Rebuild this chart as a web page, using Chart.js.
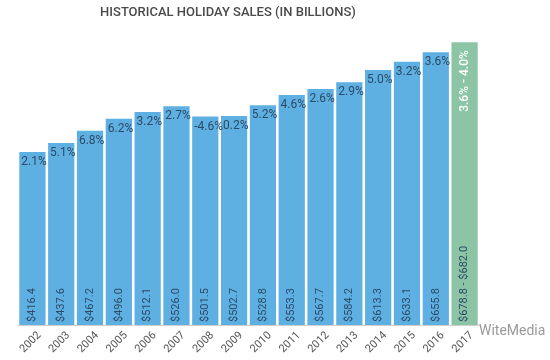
<!DOCTYPE html>
<html>
<head>
<meta charset="utf-8">
<script src="https://cdn.jsdelivr.net/npm/chart.js@4"></script>
<style>
  html, body { margin: 0; padding: 0; background: #fff; }
  #wrap { width: 550px; height: 360px; position: relative; }
</style>
</head>
<body>
<div id="wrap"><canvas id="salesChart" width="550" height="360"></canvas></div>
<script>
// --- DATA ---
const years = ['2002','2003','2004','2005','2006','2007','2008','2009','2010','2011','2012','2013','2014','2015','2016','2017'];
const sales = [416.4, 437.6, 467.2, 496.0, 512.1, 526.0, 501.5, 502.7, 528.8, 553.3, 567.7, 584.2, 613.3, 633.1, 655.8, 680.4];
const salesLabels = ['$416.4','$437.6','$467.2','$496.0','$512.1','$526.0','$501.5','$502.7','$528.8','$553.3','$567.7','$584.2','$613.3','$633.1','$655.8','$678.8 - $682.0'];
const growthLabels = ['2.1%','5.1%','6.8%','6.2%','3.2%','2.7%','-4.6%','0.2%','5.2%','4.6%','2.6%','2.9%','5.0%','3.2%','3.6%','3.6% - 4.0%'];
const forecastIndex = 15;

const blue = '#5eb0e3';
const green = '#8cc5a6';
const labelColor = '#2d4a66';

// draws the title, growth % at top of bars and $ values rotated at the bottom
const barLabels = {
    id: 'barLabels',
    afterDatasetsDraw(chart) {
        const ctx = chart.ctx;
        const meta = chart.getDatasetMeta(0);
        ctx.save();
        meta.data.forEach((bar, i) => {
            const left = bar.x - bar.width / 2;
            if (i === forecastIndex) {
                // forecast bar: both labels rotated
                ctx.save();
                ctx.translate(bar.x, bar.y + 8);
                ctx.rotate(-Math.PI / 2);
                ctx.font = '500 12px Roboto';
                ctx.fillStyle = '#ffffff';
                ctx.textAlign = 'right';
                ctx.textBaseline = 'middle';
                ctx.fillText(growthLabels[i], 0, 0);
                ctx.restore();
            } else {
                ctx.font = '12px Roboto';
                ctx.fillStyle = labelColor;
                ctx.textAlign = 'left';
                ctx.textBaseline = 'middle';
                ctx.fillText(growthLabels[i], left + 2, bar.y + 10);
            }
            ctx.save();
            ctx.translate(bar.x, bar.base - 3);
            ctx.rotate(-Math.PI / 2);
            ctx.font = '11px Roboto';
            ctx.fillStyle = labelColor;
            ctx.textAlign = 'left';
            ctx.textBaseline = 'middle';
            ctx.fillText(salesLabels[i], 0, 0);
            ctx.restore();
        });

        // title
        ctx.font = '500 13px Roboto';
        ctx.fillStyle = '#4a4a4a';
        ctx.textAlign = 'center';
        ctx.textBaseline = 'middle';
        ctx.fillText('HISTORICAL HOLIDAY SALES (IN BILLIONS)', 228, 13);

        // watermark
        ctx.font = '14px Roboto';
        ctx.fillStyle = '#9a9a9a';
        ctx.textAlign = 'left';
        ctx.fillText('WiteMedia', 479, 331);
        ctx.restore();
    }
};

new Chart(document.getElementById('salesChart'), {
    type: 'bar',
    data: {
        labels: years,
        datasets: [{
            data: sales,
            backgroundColor: years.map((y, i) => i === forecastIndex ? green : blue),
            borderWidth: 0,
            barPercentage: 0.91,
            categoryPercentage: 1.0
        }]
    },
    options: {
        responsive: false,
        animation: false,
        devicePixelRatio: 1,
        layout: { padding: { left: 18, right: 71, top: 34, bottom: 0 } },
        plugins: {
            legend: { display: false },
            title: { display: false },
            tooltip: { enabled: false }
        },
        scales: {
            y: {
                display: false,
                min: 0,
                max: 700
            },
            x: {
                grid: { display: false, drawTicks: false },
                border: { display: true, color: '#cfcfcf' },
                ticks: {
                    color: '#555',
                    font: { family: 'Roboto', size: 11 },
                    maxRotation: 45,
                    minRotation: 45,
                    padding: 4,
                    labelOffset: 7
                },
                afterFit(scale) { scale.height = 35; }
            }
        }
    },
    plugins: [barLabels]
});
</script>
</body>
</html>
